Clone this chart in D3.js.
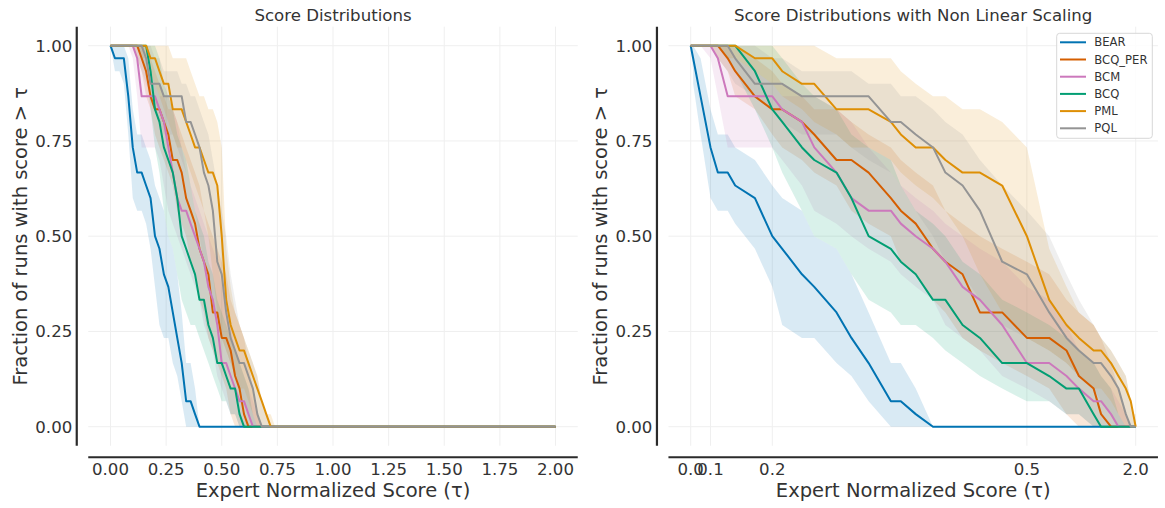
<!DOCTYPE html>
<html><head><meta charset="utf-8">
<script src="https://cdn.jsdelivr.net/npm/d3@7"></script>
<style>
html,body{margin:0;padding:0;background:#fff;}
svg{display:block;font-family:"DejaVu Sans",sans-serif;}
</style></head><body>
<svg id="chart" width="1165" height="508"></svg>
<script>
// ---------------- DATA ----------------
// threshold grid (tau)
const tau = [0,0.02,0.04,0.06,0.08,0.10,0.12,0.14,0.16,0.18,0.20,0.22,0.24,0.26,0.28,0.30,0.32,0.34,0.36,0.38,
             0.40,0.42,0.44,0.46,0.48,0.50,0.52,0.54,0.56,0.58,0.60,0.62,0.64,0.66,0.68,0.70,0.72,0.74,2.00];

const methods = ["BEAR","BCQ_PER","BCM","BCQ","PML","PQL"];
const colors  = ["#0173b2","#d55e00","#cc78bc","#029e73","#de8f05","#949494"];

// fraction of runs with score > tau (point estimate), lower / upper CI
const bearPE = [1,.967,.967,.967,.867,.733,.667,.667,.633,.6,.5,.467,.4,.367,.3,.233,.167,.067,.067,.033,0,0,0,0,0,0,0,0,0,0,0,0,0,0,0,0,0,0,0];
const bearLo = [1,.933,.933,.9,.767,.6,.567,.567,.533,.467,.367,.267,.233,.233,.167,.133,.067,0,0,0,0,0,0,0,0,0,0,0,0,0,0,0,0,0,0,0,0,0,0];
const bearHi = [1,1,1,1,.967,.833,.767,.767,.733,.7,.633,.6,.567,.5,.467,.4,.3,.167,.167,.1,0,0,0,0,0,0,0,0,0,0,0,0,0,0,0,0,0,0,0];

const bcqPerPE = [1,1,1,1,1,1,1,.967,.933,.867,.833,.833,.8,.767,.7,.7,.667,.6,.567,.533,.467,.433,.4,.3,.3,.233,.233,.2,.133,.1,.033,0,0,0,0,0,0,0,0];
const bcqPerLo = [1,1,1,1,1,1,.967,.933,.867,.833,.767,.733,.7,.667,.633,.567,.533,.5,.433,.4,.333,.3,.233,.2,.167,.133,.1,.033,0,0,0,0,0,0,0,0,0,0,0];
const bcqPerHi = [1,1,1,1,1,1,1,1,1,.967,.933,.9,.867,.833,.833,.8,.767,.733,.7,.667,.633,.567,.533,.5,.467,.433,.4,.333,.3,.267,.233,.167,.1,.033,0,0,0,0,0];

const bcmPE = [1,1,1,1,1,1,.967,.867,.867,.867,.867,.833,.8,.733,.667,.6,.567,.567,.533,.5,.467,.433,.367,.333,.267,.167,.167,.133,.1,.067,.067,.033,0,0,0,0,0,0,0];
const bcmLo = [1,1,1,1,1,.967,.867,.733,.733,.733,.733,.7,.633,.567,.533,.5,.467,.433,.4,.367,.333,.267,.233,.2,.133,.1,.067,.033,.033,0,0,0,0,0,0,0,0,0,0];
const bcmHi = [1,1,1,1,1,1,1,1,.967,.933,.9,.867,.867,.867,.833,.8,.733,.667,.633,.6,.567,.533,.5,.467,.433,.367,.333,.267,.2,.167,.133,.1,.067,.033,0,0,0,0,0];

const bcqPE = [1,1,1,1,1,1,1,1,1,.933,.833,.8,.733,.7,.667,.6,.5,.467,.433,.4,.333,.333,.267,.233,.167,.167,.133,.1,.1,.033,0,0,0,0,0,0,0,0,0];
const bcqLo = [1,1,1,1,1,1,1,.967,.933,.833,.733,.667,.567,.5,.467,.4,.333,.3,.267,.267,.233,.2,.167,.133,.1,.067,.067,.033,.033,0,0,0,0,0,0,0,0,0,0];
const bcqHi = [1,1,1,1,1,1,1,1,1,1,1,.967,.9,.867,.833,.767,.733,.7,.633,.567,.533,.5,.433,.4,.333,.3,.267,.233,.2,.167,.133,.1,.033,0,0,0,0,0,0];

const pmlPE = [1,1,1,1,1,1,1,1,1,.967,.967,.933,.9,.9,.833,.833,.833,.8,.767,.733,.733,.7,.667,.667,.633,.5,.333,.267,.233,.2,.2,.167,.133,.1,.067,.033,0,0,0];
const pmlLo = [1,1,1,1,1,1,1,.967,.967,.933,.9,.867,.833,.8,.767,.733,.733,.7,.667,.633,.6,.567,.5,.4,.3,.233,.2,.167,.133,.1,.1,.067,.033,0,0,0,0,0,0];
const pmlHi = [1,1,1,1,1,1,1,1,1,1,1,1,1,1,.967,.967,.967,.967,.933,.9,.867,.867,.833,.833,.8,.733,.467,.367,.3,.267,.233,.2,.167,.133,.067,.033,.033,0,0];

const pqlPE = [1,1,1,1,1,1,1,1,.967,.9,.9,.9,.867,.867,.867,.867,.867,.8,.8,.767,.733,.667,.633,.567,.433,.4,.3,.233,.2,.167,.167,.133,.1,.033,0,0,0,0,0];
const pqlLo = [1,1,1,1,1,1,.967,.933,.9,.867,.833,.8,.767,.767,.767,.733,.7,.667,.633,.567,.5,.433,.4,.333,.267,.233,.2,.167,.133,.1,.067,.033,0,0,0,0,0,0,0];
const pqlHi = [1,1,1,1,1,1,1,1,1,1,.967,.967,.933,.933,.933,.933,.9,.9,.867,.867,.833,.8,.767,.7,.633,.567,.5,.4,.333,.267,.233,.2,.167,.133,.067,.033,0,0,0];

// axis ticks
const yTicks = [0, 0.25, 0.5, 0.75, 1.0];
const xTicksLeft = [0, 0.25, 0.5, 0.75, 1.0, 1.25, 1.5, 1.75, 2.0];
const xTicksRightTau = [0, 0.1, 0.2, 0.5, 2.0];
const xTickLabelsRight = ["0.0", "0.1", "0.2", "0.5", "2.0"];

const titles = ["Score Distributions", "Score Distributions with Non Linear Scaling"];
const xLabel = "Expert Normalized Score (\u03c4)";
const yLabel = "Fraction of runs with score > \u03c4";

// ---------------- BUILD ----------------
const series = [
  {name: methods[0], color: colors[0], pe: bearPE,   lo: bearLo,   hi: bearHi},
  {name: methods[1], color: colors[1], pe: bcqPerPE, lo: bcqPerLo, hi: bcqPerHi},
  {name: methods[2], color: colors[2], pe: bcmPE,    lo: bcmLo,    hi: bcmHi},
  {name: methods[3], color: colors[3], pe: bcqPE,    lo: bcqLo,    hi: bcqHi},
  {name: methods[4], color: colors[4], pe: pmlPE,    lo: pmlLo,    hi: pmlHi},
  {name: methods[5], color: colors[5], pe: pqlPE,    lo: pqlLo,    hi: pqlHi}
];

// non-linear scaling of tau: proportional to fraction of runs below tau (averaged over methods)
const nlTau = tau.map((t, i) => 1 - d3.mean(series, s => s.pe[i]));
const idxOf = v => tau.findIndex(t => Math.abs(t - v) < 1e-9);

const svg = d3.select("#chart");
const textColor = "#333";
const spineColor = "#2b2b2b";
const gridColor = "#efefef";

const y = d3.scaleLinear().domain([-0.05, 1.05]).range([445.75, 26.65]);

const panels = [
  {
    x: d3.scaleLinear().domain([-0.1, 2.1]).range([88.25, 577.75]),
    xs: tau,
    ticks: xTicksLeft.map(v => ({pos: v, label: d3.format(".2f")(v)})),
    title: titles[0], legend: false
  },
  {
    x: d3.scaleLinear().domain([-0.05, 1.05]).range([668.45, 1157.95]),
    xs: nlTau,
    ticks: xTicksRightTau.map((v, k) => ({pos: nlTau[idxOf(v)], label: xTickLabelsRight[k]})),
    title: titles[1], legend: true
  }
];

panels.forEach(p => {
  const g = svg.append("g");
  const [x0, x1] = p.x.range();
  const [yb, yt] = y.range();

  // grid
  g.append("g").selectAll("line.vg").data(p.ticks).join("line")
    .attr("x1", d => p.x(d.pos)).attr("x2", d => p.x(d.pos))
    .attr("y1", yt).attr("y2", yb)
    .attr("stroke", gridColor).attr("stroke-width", 1);
  g.append("g").selectAll("line.hg").data(yTicks).join("line")
    .attr("x1", x0).attr("x2", x1)
    .attr("y1", d => y(d)).attr("y2", d => y(d))
    .attr("stroke", gridColor).attr("stroke-width", 1);

  // CI bands (below all lines, like matplotlib's default zorder)
  const bands = g.append("g");
  const lines = g.append("g");
  series.forEach(s => {
    const line = d3.line().x((d, i) => p.x(p.xs[i])).y(d => y(d));
    const area = d3.area().x((d, i) => p.x(p.xs[i]))
      .y0((d, i) => y(s.lo[i])).y1((d, i) => y(s.hi[i]));
    bands.append("path").datum(s.pe).attr("d", area)
      .attr("fill", s.color).attr("fill-opacity", 0.15).attr("stroke", "none");
    lines.append("path").datum(s.pe).attr("d", line)
      .attr("fill", "none").attr("stroke", s.color).attr("stroke-width", 2)
      .attr("stroke-linejoin", "round");
  });

  // spines (offset)
  const spineX = x0 - 11.5, spineY = yb + 11.5;
  g.append("line").attr("x1", spineX).attr("x2", spineX).attr("y1", yt).attr("y2", yb)
    .attr("stroke", spineColor).attr("stroke-width", 2.2);
  g.append("line").attr("x1", x0).attr("x2", x1).attr("y1", spineY).attr("y2", spineY)
    .attr("stroke", spineColor).attr("stroke-width", 2.2);

  // tick labels
  g.append("g").selectAll("text").data(yTicks).join("text")
    .attr("x", spineX - 4.5).attr("y", d => y(d)).attr("dy", "0.36em")
    .attr("text-anchor", "end").attr("font-size", "16.6px").attr("fill", textColor)
    .text(d => d3.format(".2f")(d));
  g.append("g").selectAll("text").data(p.ticks).join("text")
    .attr("x", d => p.x(d.pos)).attr("y", 474.5)
    .attr("text-anchor", "middle").attr("font-size", "16.6px").attr("fill", textColor)
    .text(d => d.label);

  // axis labels
  g.append("text").attr("x", (x0 + x1) / 2).attr("y", 496.5)
    .attr("text-anchor", "middle").attr("font-size", "19.5px").attr("fill", textColor)
    .text(xLabel);
  g.append("text").attr("transform", `translate(${spineX - 50},${(yt + yb) / 2}) rotate(-90)`)
    .attr("text-anchor", "middle").attr("font-size", "19.5px").attr("fill", textColor)
    .text(yLabel);

  // title
  g.append("text").attr("x", (x0 + x1) / 2).attr("y", 20.7)
    .attr("text-anchor", "middle").attr("font-size", "16.6px").attr("fill", textColor)
    .text(p.title);

  // legend
  if (p.legend) {
    const lg = g.append("g").attr("transform", "translate(1056.7,33.3)");
    lg.append("rect").attr("width", 95.6).attr("height", 105).attr("rx", 3)
      .attr("fill", "#fff").attr("fill-opacity", 0.85)
      .attr("stroke", "#d8d8d8").attr("stroke-width", 1);
    series.forEach((s, k) => {
      const cy = 9 + k * 17.2;
      lg.append("line").attr("x1", 3.3).attr("x2", 29.3).attr("y1", cy).attr("y2", cy)
        .attr("stroke", s.color).attr("stroke-width", 2);
      lg.append("text").attr("x", 37.6).attr("y", cy).attr("dy", "0.36em")
        .attr("font-size", "11.6px").attr("fill", textColor).text(s.name);
    });
  }
});
</script>
</body></html>
